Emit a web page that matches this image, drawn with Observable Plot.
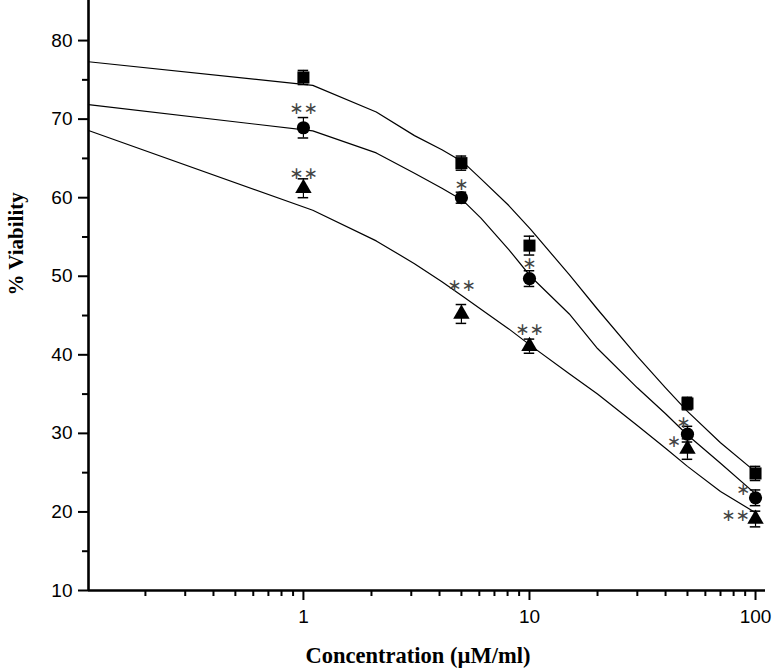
<!DOCTYPE html>
<html><head><meta charset="utf-8">
<script src="https://cdn.jsdelivr.net/npm/d3@7"></script>
<script src="https://cdn.jsdelivr.net/npm/@observablehq/plot@0.6"></script>
<style>body{margin:0;background:#fff}</style>
</head><body><div id="chart"></div>
<script>
// Measured points
const conc = [1, 5, 10, 50, 100];
const squareMean = [75.3, 64.4, 53.9, 33.8, 24.9];
const squareErr = [0.9, 0.9, 1.2, 0.8, 0.9];
const circleMean = [68.9, 60.0, 49.7, 29.9, 21.8];
const circleErr = [1.3, 0.7, 1.0, 1.0, 1.0];
const triangleMean = [61.2, 45.2, 41.1, 28.0, 19.1];
const triangleErr = [1.2, 1.2, 0.9, 1.3, 1.0];

// Fitted curves
const fitConc = [0.112, 1.1, 2.1, 3.1, 4.1, 5.1, 6.1, 8.1, 10.1, 15, 20, 30, 40, 50, 70, 100];
const fitSquare = [77.3, 74.3, 70.9, 67.9, 66.1, 64.5, 62.4, 59.0, 56.0, 50.2, 45.8, 39.8, 35.8, 32.8, 28.8, 25.1];
const fitCircle = [71.85, 68.5, 65.7, 63.1, 61.2, 59.6, 57.4, 53.4, 50.0, 45.2, 40.8, 35.8, 32.5, 29.8, 26.2, 22.3];
const fitTriangle = [68.55, 58.4, 54.5, 51.6, 49.3, 47.4, 45.8, 43.3, 41.2, 37.6, 35.0, 31.0, 28.1, 25.8, 22.6, 19.9];

// Significance marks
const starConc = [1, 1, 5, 5, 10, 10, 47.9, 43.5, 88.2, 81.5];
const starLevel = [71.35, 63.1, 61.7, 48.8, 51.6, 43.2, 31.4, 29.0, 22.8, 19.55];
const starText = ["**", "**", "*", "**", "*", "**", "*", "*", "*", "**"];

// Axis ticks
const xMajor = [1, 10, 100];
const xMinor = [0.2, 0.3, 0.4, 0.5, 0.6, 0.7, 0.8, 0.9, 2, 3, 4, 5, 6, 7, 8, 9, 20, 30, 40, 50, 60, 70, 80, 90];
const yMajor = [10, 20, 30, 40, 50, 60, 70, 80];
const yMinor = [15, 25, 35, 45, 55, 65, 75];
const xDomain = [0.112, 110.7];
const yDomain = [10, 85.1];
const xLabel = "Concentration (\u00b5M/ml)";
const yLabel = "% Viability";

const series = [
  {name: "square", mean: squareMean, err: squareErr, fit: fitSquare, r: 6.8},
  {name: "circle", mean: circleMean, err: circleErr, fit: fitCircle, r: 6.6},
  {name: "triangle", mean: triangleMean, err: triangleErr, fit: fitTriangle, r: 6.1}
];
const pts = s => conc.map((c, i) => ({x: c, y: s.mean[i], e: s.err[i]}));
const points = series.flatMap(pts);
const fits = series.flatMap(s => fitConc.map((c, i) => ({x: c, y: s.fit[i], name: s.name})));
const stars = starConc.map((c, i) => ({x: c, y: starLevel[i], t: starText[i].replace(/\*/g, "\u2217")}));

const capF = 1.055;

const plot = Plot.plot({
  width: 776, height: 672,
  marginLeft: 88, marginRight: 11, marginTop: 0, marginBottom: 82,
  style: {fontFamily: "Liberation Sans, Arial, sans-serif", fontSize: "19px", background: "#fff", color: "#000"},
  x: {type: "log", domain: xDomain},
  y: {domain: yDomain},
  marks: [
    Plot.axisX({ticks: xMajor, tickSize: 10, tickPadding: 9, tickFormat: d => String(d), label: null, strokeWidth: 2}),
    Plot.axisX({ticks: xMinor, tickSize: 6, tickFormat: () => "", label: null, strokeWidth: 2}),
    Plot.axisY({ticks: yMajor, tickSize: 10, tickPadding: 6, label: null, strokeWidth: 2}),
    Plot.axisY({ticks: yMinor, tickSize: 6, tickFormat: () => "", label: null, strokeWidth: 2}),
    Plot.ruleY([yDomain[0]], {stroke: "#000", strokeWidth: 2.6}),
    Plot.ruleX([xDomain[0]], {stroke: "#000", strokeWidth: 2.6}),
    Plot.line(fits, {x: "x", y: "y", z: "name", stroke: "#000", strokeWidth: 1.2}),
    Plot.ruleX(points, {x: "x", y1: d => d.y - d.e, y2: d => d.y + d.e, stroke: "#000", strokeWidth: 1.2}),
    Plot.ruleY(points, {y: d => d.y - d.e, x1: d => d.x / capF, x2: d => d.x * capF, stroke: "#000", strokeWidth: 1.5}),
    Plot.ruleY(points, {y: d => d.y + d.e, x1: d => d.x / capF, x2: d => d.x * capF, stroke: "#000", strokeWidth: 1.5}),
    ...series.map(s => Plot.dot(pts(s), {x: "x", y: "y", symbol: s.name, r: s.r, fill: "#000", stroke: "none"})),
    Plot.text(stars, {x: "x", y: "y", text: "t", fontFamily: "DejaVu Sans", fontSize: 17, fill: "#444", lineAnchor: "middle"}),
    Plot.text([xLabel], {frameAnchor: "bottom", dy: 72, text: d => d, fontFamily: "Liberation Serif, Times New Roman, serif", fontWeight: "bold", fontSize: 22.5, dx: -9}),
    Plot.text([yLabel], {frameAnchor: "left", dx: -72, rotate: -90, text: d => d, fontFamily: "Liberation Serif, Times New Roman, serif", fontWeight: "bold", fontSize: 21})
  ]
});
document.getElementById("chart").appendChild(plot);
</script>
</body></html>
